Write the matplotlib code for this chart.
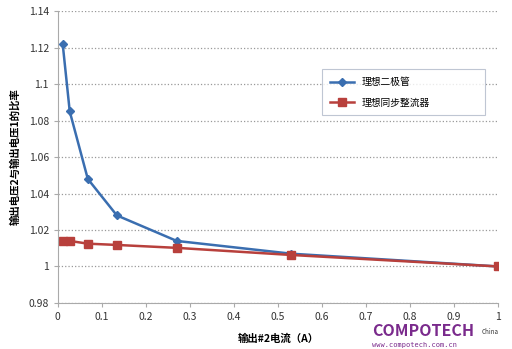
import matplotlib.pyplot as plt

plt.rcParams['font.family'] = ['Noto Sans CJK SC', 'DejaVu Sans']

# 数据
current = [0.011, 0.027, 0.068, 0.134, 0.27, 0.53, 1.0]
diode = [1.122, 1.085, 1.048, 1.028, 1.014, 1.007, 1.0]
sync_rect = [1.014, 1.014, 1.0125, 1.0118, 1.0102, 1.0063, 1.0]
x_ticks = [0, 0.1, 0.2, 0.3, 0.4, 0.5, 0.6, 0.7, 0.8, 0.9, 1]
y_ticks = [0.98, 1, 1.02, 1.04, 1.06, 1.08, 1.1, 1.12, 1.14]
y_labels = ['0.98', '1', '1.02', '1.04', '1.06', '1.08', '1.1', '1.12', '1.14']

fig = plt.figure(figsize=(5.12, 3.49), dpi=100)
ax = fig.add_axes([0.113, 0.132, 0.860, 0.836])

ax.plot(current, diode, '-D', color='#3a6eb0', linewidth=1.8, markersize=4.5, label='理想二极管')
ax.plot(current, sync_rect, '-s', color='#b8403c', linewidth=1.8, markersize=6, label='理想同步整流器')

ax.set_xlim(0, 1)
ax.set_ylim(0.98, 1.14)
ax.set_xticks(x_ticks)
ax.set_xticklabels([f'{t:g}' for t in x_ticks])
ax.set_yticks(y_ticks)
ax.set_yticklabels(y_labels)
ax.tick_params(labelsize=7.5, colors='#333333', length=3, width=0.8)
ax.tick_params(axis='both', color='#aaaaaa')

for s in ['top', 'right']:
    ax.spines[s].set_visible(False)
for s in ['left', 'bottom']:
    ax.spines[s].set_color('#aaaaaa')

ax.yaxis.grid(True, linestyle=':', color='#999999', linewidth=0.9)
ax.set_axisbelow(True)

ax.set_xlabel('输出#2电流（A）', fontsize=7.5, fontweight='bold', labelpad=8)
ax.set_ylabel('输出电压2与输出电压1的比率', fontsize=7.5, fontweight='bold', labelpad=6)

leg = ax.legend(loc='upper left', bbox_to_anchor=(0.60, 0.651, 0.37, 0.15), mode='expand',
                fontsize=7, frameon=True, fancybox=False, handlelength=2.5,
                labelspacing=1.1, borderpad=0.8, borderaxespad=0)
leg.get_frame().set_edgecolor('#b0b8c8')
leg.get_frame().set_linewidth(0.8)

# 水印
fig.text(0.727, 0.037, 'COMPOTECH', color='#7a2a8c', fontsize=11.5, fontweight='bold')
fig.text(0.94, 0.042, 'China', color='#333333', fontsize=4.5)
fig.text(0.727, 0.006, 'www.compotech.com.cn', color='#7a2a8c', fontsize=5, family='DejaVu Sans Mono')

fig.savefig('out.png', dpi=100)
